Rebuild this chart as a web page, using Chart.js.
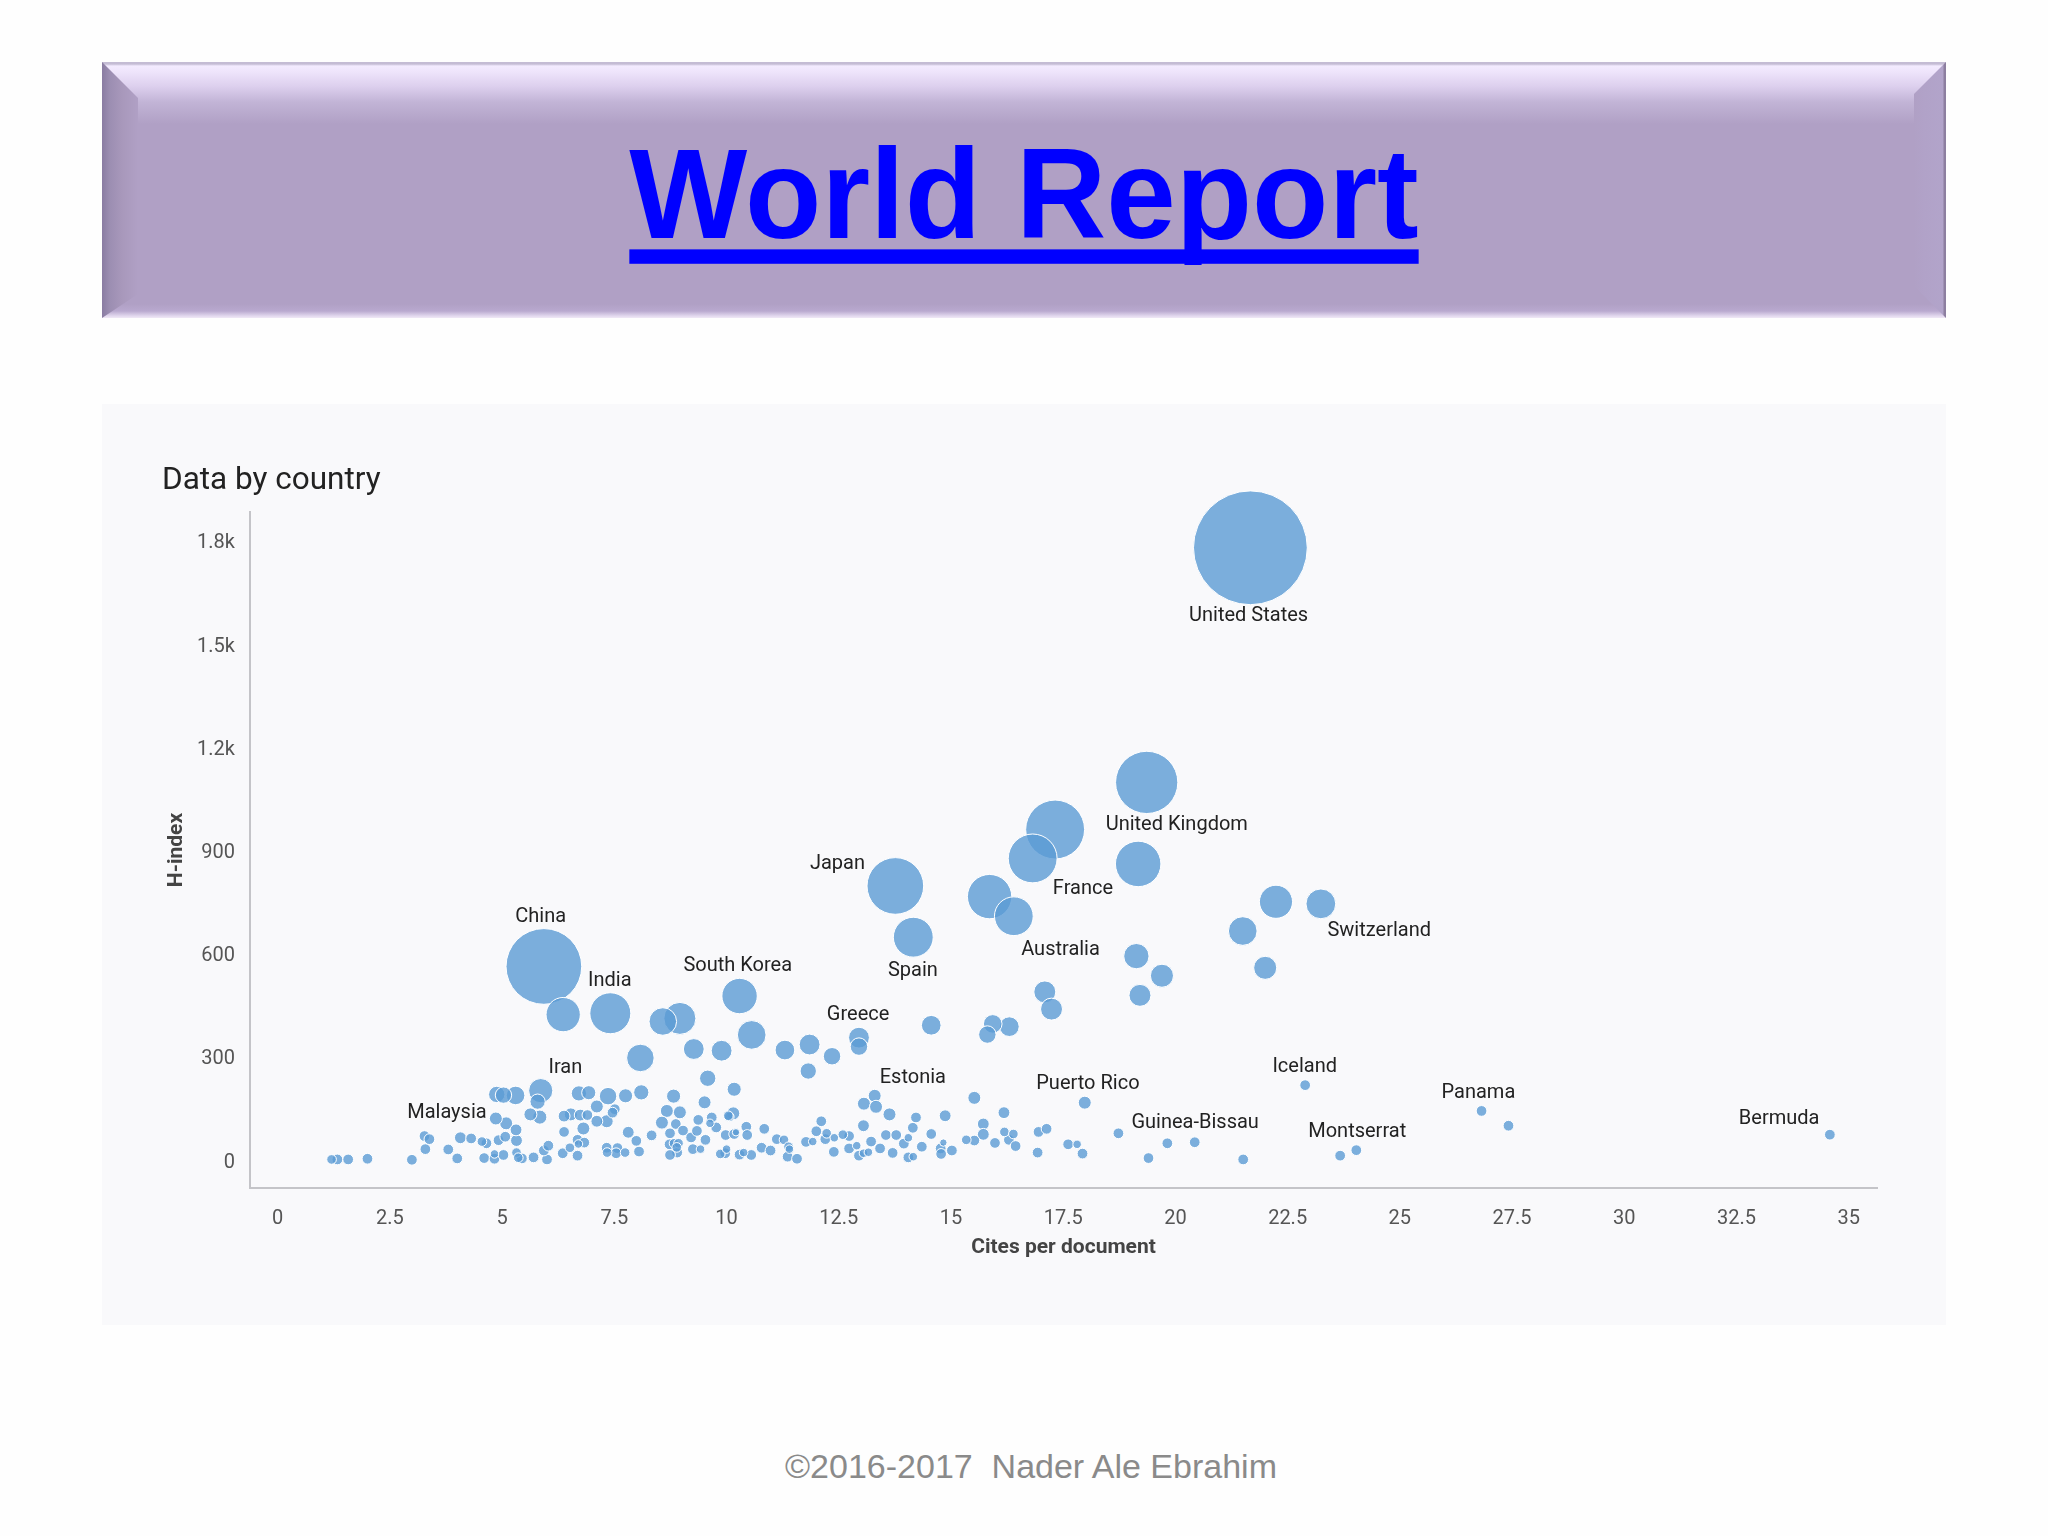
<!DOCTYPE html>
<html>
<head>
<meta charset="utf-8">
<title>World Report</title>
<script src="https://cdn.jsdelivr.net/npm/chart.js@4"></script>
<style>
  html, body { margin: 0; padding: 0; background: #fefefe; }
  body { position: relative; width: 2048px; height: 1536px; overflow: hidden; }
  .banner { position: absolute; left: 102px; top: 62px; width: 1844px; height: 256px;
    background: linear-gradient(to bottom, #c4bcd4 0, #c4bcd4 2px, #f3ebff 4px, #eee4fb 10px, #ddd0ee 24px, #c2b4d6 40px, #b0a0c5 62px, #b0a0c5 calc(100% - 14px), #b9a9cf calc(100% - 7px), #e2d8ee calc(100% - 2px), #f0e8f6 100%); }
  .bevel { position: absolute; left: 0; top: 0; width: 100%; height: 100%; }
  .bevel.left { background: linear-gradient(to right, #8a7ca2 0, #9c8eb2 8px, #a898bb 20px, #b0a0c5 36px); clip-path: polygon(0 0, 36px 36px, 36px calc(100% - 24px), 0 100%); }
  .bevel.right { background: linear-gradient(to left, #8d7fa0 0, #8d7fa0 2px, #b2a4ca 3px, #b1a2c8 22px, #b0a0c5 32px); clip-path: polygon(100% 0, calc(100% - 32px) 32px, calc(100% - 32px) calc(100% - 32px), 100% 100%); }
  .banner a { position: absolute; left: 0; width: 100%; top: 63px; text-align: center; font: bold 125px/140px "Liberation Sans", Arial, sans-serif; color: #0000ff;
    text-decoration: underline; text-decoration-thickness: 13.5px; text-underline-offset: 11px; text-decoration-skip-ink: none;
    transform: scaleY(1.03); transform-origin: 50% 80%; }
  .panel { position: absolute; left: 102px; top: 404px; width: 1844px; height: 921px; background: #f9f9fb; }
  .footer { position: absolute; left: 0; width: 2062px; top: 1445px; text-align: center; font: 34px/42px "Liberation Sans", Arial, sans-serif; color: #8a8a8a; white-space: pre; }
</style>
</head>
<body>
<div class="banner">
  <div class="bevel left"></div><div class="bevel right"></div>
  <a href="#">World Report</a>
</div>
<div class="panel"><canvas id="bubble" width="1844" height="920"></canvas></div>
<div class="footer">©2016-2017  Nader Ale Ebrahim</div>
<script>
// cites per document, h-index and relative bubble size (US = 100), same order in all three
var citesPerDoc = [
  21.67, 19.36, 17.32, 16.82, 19.17, 13.76, 15.86, 16.40, 14.16, 22.24,
  23.24, 21.50, 22.00, 19.13, 19.70, 19.21, 17.09, 17.24, 14.56, 15.93,
  16.30, 15.81, 5.93, 6.36, 7.41, 8.58, 8.96, 10.29, 10.56, 8.08,
  9.27, 9.89, 11.30, 11.85, 12.35, 11.82, 12.95, 12.95, 9.58, 5.86,
  4.88, 5.03, 5.30, 5.79, 6.71, 6.93, 7.36, 7.75, 8.10, 8.82, 10.17,
  5.63, 5.84, 6.38, 6.53, 6.74, 6.90, 6.81, 7.11, 7.51, 7.46,
  7.11, 7.33, 8.67, 8.96, 9.51, 8.56, 10.15, 10.06, 10.04, 5.09,
  4.86, 13.06, 13.30, 13.33, 13.63, 13.05, 14.22, 14.87, 15.52, 15.72,
  15.72, 16.18, 17.98, 22.89, 26.82, 27.42, 34.58,
  1.20, 1.33, 1.57, 2.00, 2.99, 3.29, 3.27, 3.38, 3.80, 4.00,
  4.07, 4.31, 4.55, 4.65, 4.60, 4.83, 4.83, 5.03, 4.92, 5.07,
  5.32, 5.31, 6.38, 6.68, 6.70, 6.83, 6.51, 6.35, 6.68, 6.00,
  5.93, 6.03, 5.32, 5.44, 5.36, 5.70, 7.33, 7.34, 7.57, 7.54,
  7.74, 8.05, 7.81, 7.99, 8.33, 8.74, 8.87, 9.03, 9.21, 9.34,
  9.37, 9.67, 9.63, 9.77, 9.98, 9.53, 9.25, 9.42, 8.73, 8.83,
  8.93, 8.89, 8.90, 8.74, 9.86, 9.97, 10.00, 10.17, 10.21, 10.44,
  10.46, 10.84, 11.12, 11.28, 11.38, 11.40, 11.36, 11.57, 10.78, 10.98,
  10.55, 10.29, 10.38, 12.11, 12.00, 11.77, 11.92, 12.20, 12.23, 12.40,
  12.39, 12.73, 12.90, 12.95, 13.05, 13.16, 13.22, 13.42, 13.70, 13.95,
  14.05, 14.15, 14.05, 14.16, 14.35, 14.56, 14.77, 14.78, 14.83, 15.02,
  15.34, 15.52, 12.59, 12.73, 13.55, 13.78, 16.19, 16.29, 16.39, 16.44,
  15.98, 16.93, 16.95, 17.13, 17.61, 17.81, 17.93, 18.73, 19.40, 19.82,
  20.43, 21.51, 23.67, 24.03
];
var hIndex = [
  1787, 1105, 968, 884, 868, 804, 773, 716, 655, 758,
  752, 673, 566, 600, 543, 486, 496, 446, 399, 403,
  395, 372, 570, 430, 434, 410, 419, 484, 371, 304,
  330, 325, 327, 343, 309, 266, 363, 337, 245, 209,
  198, 196, 195, 177, 201, 203, 193, 194, 204, 193, 213,
  140, 132, 135, 140, 138, 138, 99, 163, 155, 145,
  120, 120, 150, 146, 175, 116, 143, 133, 136, 114,
  128, 171, 194, 162, 140, 107, 131, 136, 188, 112,
  82, 145, 174, 225, 150, 107, 81,
  9, 9, 9, 11, 8, 39, 77, 68, 38, 12,
  72, 70, 61, 56, 13, 11, 25, 22, 65, 75,
  64, 95, 89, 66, 54, 58, 43, 27, 20, 9,
  35, 49, 29, 12, 14, 15, 43, 29, 42, 27,
  29, 32, 88, 63, 79, 85, 112, 93, 73, 92,
  124, 131, 114, 102, 80, 66, 39, 39, 53, 56,
  56, 44, 29, 22, 25, 27, 39, 83, 88, 104,
  80, 98, 68, 66, 46, 39, 17, 11, 43, 35,
  22, 23, 29, 120, 91, 60, 61, 68, 85, 72,
  31, 41, 49, 20, 27, 30, 61, 41, 28, 55,
  72, 101, 15, 17, 46, 83, 41, 25, 58, 35,
  66, 64, 81, 77, 80, 80, 89, 66, 83, 48,
  57, 29, 89, 98, 53, 53, 26, 85, 13, 56,
  59, 9, 20, 36
];
var bubbleSize = [
  100, 54, 51, 42, 39, 49, 38, 33, 34, 28,
  25, 24, 19, 21, 19, 18, 18, 18, 16, 15,
  16, 14, 66, 29, 35, 23, 27, 30, 24, 23,
  17, 17, 16, 17, 14, 13, 17, 14, 13, 20,
  13, 13, 15, 12, 12, 11, 14, 11, 12, 11, 11,
  10, 11, 9, 10, 9, 8, 10, 10, 8, 8,
  9, 10, 10, 10, 10, 10, 10, 7, 7, 10,
  10, 10, 10, 10, 10, 9, 8, 9, 10, 9,
  9, 9, 10, 8, 8, 8, 8,
  7, 8, 8, 8, 8, 8, 8, 8, 8, 8,
  9, 8, 7, 8, 8, 8, 6, 8, 8, 8,
  9, 9, 8, 8, 6, 8, 7, 8, 8, 8,
  8, 8, 7, 8, 7, 8, 8, 7, 8, 8,
  7, 8, 9, 8, 8, 8, 8, 8, 8, 8,
  8, 8, 6, 8, 8, 8, 8, 6, 8, 7,
  7, 7, 8, 8, 7, 8, 6, 8, 5, 8,
  8, 8, 8, 7, 7, 6, 8, 8, 8, 8,
  8, 8, 6, 8, 8, 8, 6, 8, 7, 6,
  8, 8, 6, 8, 6, 6, 8, 8, 8, 8,
  6, 8, 8, 6, 8, 8, 8, 8, 5, 8,
  7, 8, 7, 8, 8, 8, 7, 8, 7, 8,
  8, 8, 8, 8, 8, 6, 8, 8, 8, 8,
  8, 8, 8, 8
];

var xTicks = [0, 2.5, 5, 7.5, 10, 12.5, 15, 17.5, 20, 22.5, 25, 27.5, 30, 32.5, 35];
var yTicks = [0, 300, 600, 900, 1200, 1500, 1800];
var yTickLabels = ["0", "300", "600", "900", "1.2k", "1.5k", "1.8k"];

// country labels, placed in data units
var labelNames = ["United States", "United Kingdom", "France", "Japan", "China", "India", "South Korea", "Spain", "Australia", "Switzerland",
  "Greece", "Iran", "Estonia", "Puerto Rico", "Iceland", "Panama", "Malaysia", "Guinea-Bissau", "Montserrat", "Bermuda"];
var labelX = [21.63, 20.03, 17.94, 12.47, 5.86, 7.40, 10.25, 14.15, 17.44, 24.54,
  12.93, 6.41, 14.15, 18.05, 22.88, 26.75, 3.77, 20.44, 24.05, 33.45];
var labelY = [1588, 980, 794, 869, 714, 528, 570, 558, 619, 672,
  429, 274, 247, 228, 277, 201, 144, 114, 88, 126];

var chartFont = "Roboto, sans-serif";
var radiusPerSize = 0.56;
var radiusExtra = 0.9; // the white outline eats into the fill

var points = citesPerDoc.map(function (x, i) {
  return { x: x, y: hIndex[i], r: bubbleSize[i] * radiusPerSize + radiusExtra };
});
// big ones first so the small ones stay on top
points.sort(function (a, b) { return b.r - a.r; });

var countryLabels = {
  id: "countryLabels",
  afterDatasetsDraw: function (chart) {
    var ctx = chart.ctx;
    ctx.save();
    ctx.font = "20px " + chartFont;
    ctx.fillStyle = "#222";
    ctx.textAlign = "center";
    ctx.textBaseline = "middle";
    labelNames.forEach(function (name, i) {
      ctx.fillText(name, chart.scales.x.getPixelForValue(labelX[i]), chart.scales.y.getPixelForValue(labelY[i]));
    });
    ctx.restore();
  },
};

var myChart = new Chart(document.getElementById("bubble").getContext("2d"), {
  type: "bubble",
  data: {
    datasets: [
      {
        label: "Countries",
        data: points,
        backgroundColor: "rgba(91,155,213,0.8)",
        borderColor: "#ffffff",
        borderWidth: 1,
        clip: false,
      },
    ],
  },
  options: {
    responsive: false,
    animation: false,
    devicePixelRatio: 1,
    layout: { padding: { left: 60, right: 69, top: 0, bottom: 0 } },
    plugins: {
      legend: { display: false },
      tooltip: { enabled: false },
      title: {
        display: true,
        text: "Data by country",
        align: "start",
        color: "#222",
        font: { family: chartFont, size: 31.5, weight: "normal" },
        padding: { top: 58, bottom: 12.2 },
      },
    },
    scales: {
      x: {
        type: "linear",
        bounds: "data",
        min: -0.617,
        max: 35.63,
        grid: { display: false, drawTicks: false },
        border: { display: true, color: "#c4c4c8", width: 2 },
        afterBuildTicks: function (scale) {
          scale.ticks = xTicks.map(function (v) { return { value: v }; });
        },
        afterFit: function (scale) { scale.height = 136; },
        ticks: {
          padding: 19,
          color: "#555",
          maxRotation: 0,
          autoSkip: false,
          font: { family: chartFont, size: 20 },
          callback: function (v) { return String(v); },
        },
        title: {
          display: true,
          text: "Cites per document",
          color: "#444",
          font: { family: chartFont, size: 21, weight: "bold" },
          padding: { top: 0, bottom: 64 },
        },
      },
      y: {
        type: "linear",
        bounds: "data",
        min: -74,
        max: 1891,
        grid: { display: false, drawTicks: false },
        border: { display: true, color: "#c4c4c8", width: 2 },
        afterBuildTicks: function (scale) {
          scale.ticks = yTicks.map(function (v) { return { value: v }; });
        },
        afterFit: function (scale) { scale.width = 88; },
        ticks: {
          padding: 15,
          color: "#555",
          autoSkip: false,
          font: { family: chartFont, size: 20 },
          callback: function (v) { return yTickLabels[yTicks.indexOf(v)]; },
        },
        title: {
          display: true,
          text: "H-index",
          color: "#444",
          font: { family: chartFont, size: 21, weight: "bold" },
          padding: { top: 2, bottom: 0 },
        },
      },
    },
  },
  plugins: [countryLabels],
});
</script>
</body>
</html>
